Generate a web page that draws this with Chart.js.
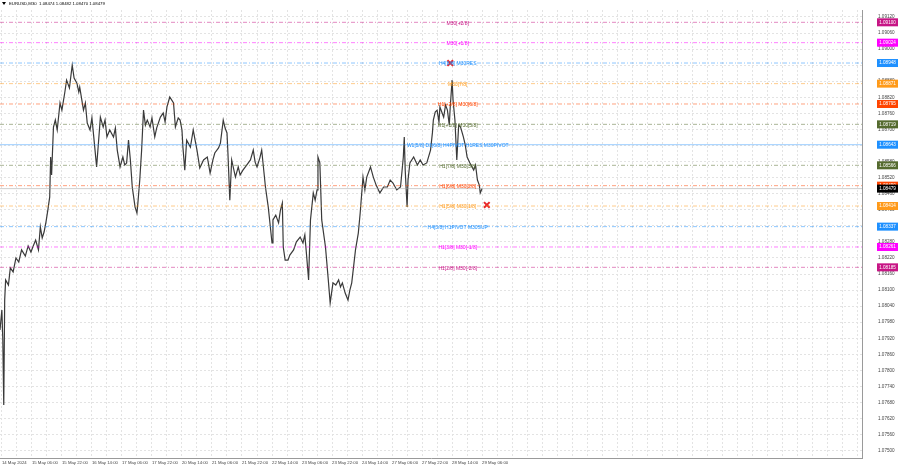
<!DOCTYPE html>
<html>
<head>
<meta charset="utf-8">
<style>
html,body{margin:0;padding:0;background:#fff;}
#wrap{width:900px;height:468px;position:relative;}
</style>
<script src="https://cdn.jsdelivr.net/npm/chart.js@4.4.1/dist/chart.umd.min.js"></script>
</head>
<body>
<div id="wrap"><canvas id="chart" width="900" height="468"></canvas></div>
<script>
// price path: bar number (M30 bars from the first one on screen) and price
const barIdx = [0,2,3,4,5,6,9,11,14,17,20,23,27,30,33,35,38,41,43,45,47,49,51,53,54,55,57,59,61,64,66,69,71,74,77,79,82,84,85,89,91,93,96,98,101,103,106,107,110,112,114,117,121,123,125,128,131,133,135,137,139,141,144,146,147,149,151,153,155,157,160,162,165,167,171,174,176,178,181,185,187,190,192,194,195,197,199,203,206,208,210,213,217,221,224,227,229,233,235,238,240,242,243,245,247,251,254,256,259,263,267,270,272,274,277,279,283,286,288,290,291,294,297,299,301,302,304,307,309,313,316,320,323,325,327,329,331,334,336,338,339,341,343,347,350,352,355,358,361,363,365,368,371,373,375,379,382,384,387,389,391,395,398,401,405,409,413,416,419,423,427,430,431,432,434,435,437,441,445,448,451,455,459,461,462,464,466,468,469,473,475,477,479,480,482,483,485,487,489,491,494,496,498,501,505,507,509,511,512,514];
const prices = [1.07951,1.08026,1.07914,1.07671,1.08063,1.08138,1.08119,1.08183,1.08168,1.08220,1.08205,1.08250,1.08227,1.08265,1.08242,1.08261,1.08287,1.08250,1.08336,1.08295,1.08317,1.08354,1.08399,1.08448,1.08597,1.08530,1.08709,1.08735,1.08698,1.08799,1.08772,1.08836,1.08884,1.08855,1.08940,1.08892,1.08873,1.08840,1.08858,1.08772,1.08799,1.08724,1.08698,1.08743,1.08634,1.08560,1.08698,1.08746,1.08709,1.08735,1.08672,1.08698,1.08672,1.08705,1.08623,1.08560,1.08597,1.08567,1.08575,1.08660,1.08586,1.08485,1.08410,1.08388,1.08425,1.08511,1.08623,1.08772,1.08716,1.08735,1.08709,1.08743,1.08672,1.08705,1.08746,1.08761,1.08728,1.08784,1.08821,1.08799,1.08709,1.08743,1.08735,1.08698,1.08634,1.08548,1.08660,1.08634,1.08698,1.08660,1.08623,1.08556,1.08586,1.08597,1.08537,1.08586,1.08612,1.08631,1.08649,1.08735,1.08705,1.08687,1.08612,1.08436,1.08586,1.08522,1.08560,1.08530,1.08548,1.08567,1.08586,1.08623,1.08578,1.08560,1.08593,1.08623,1.08485,1.08410,1.08343,1.08276,1.08362,1.08380,1.08351,1.08399,1.08425,1.08261,1.08212,1.08212,1.08231,1.08250,1.08280,1.08298,1.08276,1.08306,1.08224,1.08138,1.08362,1.08463,1.08436,1.08474,1.08597,1.08575,1.08362,1.08261,1.08138,1.08052,1.08127,1.08119,1.08138,1.08112,1.08127,1.08089,1.08063,1.08100,1.08127,1.08250,1.08313,1.08388,1.08522,1.08474,1.08522,1.08560,1.08522,1.08492,1.08463,1.08485,1.08485,1.08511,1.08500,1.08474,1.08485,1.08597,1.08672,1.08548,1.08410,1.08511,1.08575,1.08597,1.08567,1.08586,1.08567,1.08575,1.08623,1.08687,1.08735,1.08765,1.08772,1.08728,1.08784,1.08746,1.08791,1.08772,1.08716,1.08784,1.08884,1.08810,1.08735,1.08586,1.08716,1.08709,1.08672,1.08642,1.08597,1.08575,1.08548,1.08567,1.08511,1.08492,1.08463,1.08479];

// Murrey math levels
const levelPrices = [1.09100,1.09024,1.08948,1.08871,1.08795,1.08719,1.08643,1.08566,1.08490,1.08414,1.08337,1.08261,1.08185];
const levelNames = ['M30[+2/8]','M30[+1/8]','H4[8/8] M30RES','M30[7/8]','H1[+2/8] M30[6/8]','H1[+1/8] M30[5/8]','W1[5/8] D1[6/8] H4PIVOT H1RES M30PIVOT','H1[7/8] M30[3/8]','H1[6/8] M30[2/8]','H1[5/8] M30[1/8]','H4[3/8] H1PIVOT M30SUP','H1[3/8] M30[-1/8]','H1[2/8] M30[-2/8]'];
const levelColors = ['#c71585','#ff00ff','#1e90ff','#ff9a1a','#ff4500','#556b2f','#1e90ff','#556b2f','#ff4500','#ff9a1a','#1e90ff','#ff00ff','#c71585'];

const dateLabels = ['14 May 2024','15 May 06:00','15 May 22:00','16 May 14:00','17 May 06:00','17 May 22:00','20 May 14:00','21 May 06:00','21 May 22:00','22 May 14:00','23 May 06:00','23 May 22:00','24 May 14:00','27 May 06:00','27 May 22:00','28 May 14:00','29 May 06:00'];
const priceTicks = [1.07500,1.07560,1.07620,1.07680,1.07740,1.07800,1.07860,1.07920,1.07980,1.08040,1.08100,1.08160,1.08220,1.08280,1.08340,1.08400,1.08460,1.08520,1.08580,1.08640,1.08700,1.08760,1.08820,1.08880,1.08940,1.09000,1.09060,1.09120];

const lastPrice = 1.08479;
const headerText = 'EURUSD,M30  1.08474 1.08482 1.08470 1.08479';
const markerIdx = [480, 519];
const markerPrice = [1.08948, 1.08418];

const X_MAX = 919;
const FONT = 'Liberation Sans, Arial, sans-serif';

function fade(hex, a) {
    const n = parseInt(hex.slice(1), 16);
    return `rgba(${n >> 16},${(n >> 8) & 255},${n & 255},${a})`;
}

const datasets = [];
levelPrices.forEach((p, k) => {
    datasets.push({
        data: [{ x: 0, y: p }, { x: X_MAX, y: p }],
        showLine: true, pointRadius: 0, borderWidth: 1,
        borderColor: fade(levelColors[k], k === 6 ? 0.45 : 0.5),
        borderDash: k === 6 ? [] : [4, 2, 1, 2],
    });
});
// bid line
datasets.push({
    data: [{ x: 0, y: lastPrice }, { x: X_MAX, y: lastPrice }],
    showLine: true, pointRadius: 0, borderWidth: 1, borderColor: 'rgba(160,160,160,0.5)',
});
datasets.push({
    data: barIdx.map((b, k) => ({ x: b, y: prices[k] })),
    showLine: true, pointRadius: 0, borderWidth: 1.2, borderColor: '#3a3a3a', tension: 0,
});
datasets.push({
    data: markerIdx.map((b, k) => ({ x: b, y: markerPrice[k] })),
    showLine: false, pointStyle: 'crossRot', pointRadius: 4, borderWidth: 2,
    borderColor: '#e8262a',
});

const overlay = {
    id: 'overlay',
    afterDatasetsDraw(chart) {
        const ctx = chart.ctx;
        const xs = chart.scales.x, ys = chart.scales.y;
        ctx.save();
        // level names in the middle of the chart
        ctx.font = `5px ${FONT}`;
        ctx.textAlign = 'center';
        ctx.textBaseline = 'middle';
        levelPrices.forEach((p, k) => {
            ctx.fillStyle = levelColors[k];
            ctx.fillText(levelNames[k], xs.getPixelForValue(488), ys.getPixelForValue(p) + 1);
        });
        // price boxes on the right axis
        ctx.font = `4.6px ${FONT}`;
        const bx = chart.chartArea.right + 15;
        const box = (p, col) => {
            const y = ys.getPixelForValue(p);
            ctx.fillStyle = col;
            ctx.fillRect(bx, y - 4, 21, 8);
            ctx.fillStyle = '#fff';
            ctx.fillText(p.toFixed(5), bx + 10.5, y);
        };
        levelPrices.forEach((p, k) => box(p, levelColors[k]));
        box(lastPrice, '#000');
        // header
        ctx.textAlign = 'left';
        ctx.fillStyle = '#000';
        ctx.font = `4.3px ${FONT}`;
        ctx.fillText(headerText, 9, 4);
        ctx.beginPath();
        ctx.moveTo(2, 2); ctx.lineTo(6, 2); ctx.lineTo(4, 5); ctx.closePath();
        ctx.fill();
        ctx.restore();
    }
};

new Chart(document.getElementById('chart'), {
    type: 'scatter',
    data: { datasets },
    options: {
        responsive: false, animation: false, devicePixelRatio: 1,
        layout: { autoPadding: false, padding: { top: 10, left: 0, right: 0, bottom: 0 } },
        plugins: { legend: { display: false }, tooltip: { enabled: false } },
        scales: {
            x: {
                type: 'linear', min: 0, max: X_MAX,
                afterBuildTicks: (s) => {
                    const t = [];
                    for (let v = 2; v <= X_MAX; v += 16) t.push({ value: v });
                    s.ticks = t;
                },
                afterFit: (s) => { s.height = 10; s.paddingLeft = 0; s.paddingRight = 0; },
                ticks: {
                    autoSkip: false, maxRotation: 0, align: 'start', padding: 2,
                    color: '#444', font: { size: 4.3, family: FONT },
                    callback: (v) => {
                        const k = (v - 2) / 32;
                        return Number.isInteger(k) && k < dateLabels.length ? dateLabels[k] : '';
                    },
                },
                grid: { color: '#e3e3e3', drawTicks: false },
                border: { color: '#9a9a9a', dash: [2, 2] },
            },
            y: {
                position: 'right', min: 1.07473, max: 1.09146,
                afterBuildTicks: (s) => { s.ticks = priceTicks.map(v => ({ value: v })); },
                afterFit: (s) => { s.width = 38; s.paddingTop = 0; s.paddingBottom = 0; },
                ticks: {
                    padding: 16, color: '#444', font: { size: 4.6, family: FONT },
                    callback: (v) => v.toFixed(5),
                },
                grid: { color: '#e3e3e3', drawTicks: false },
                border: { color: '#9a9a9a', dash: [2, 2] },
            },
        },
    },
    plugins: [overlay],
});
</script>
</body>
</html>
